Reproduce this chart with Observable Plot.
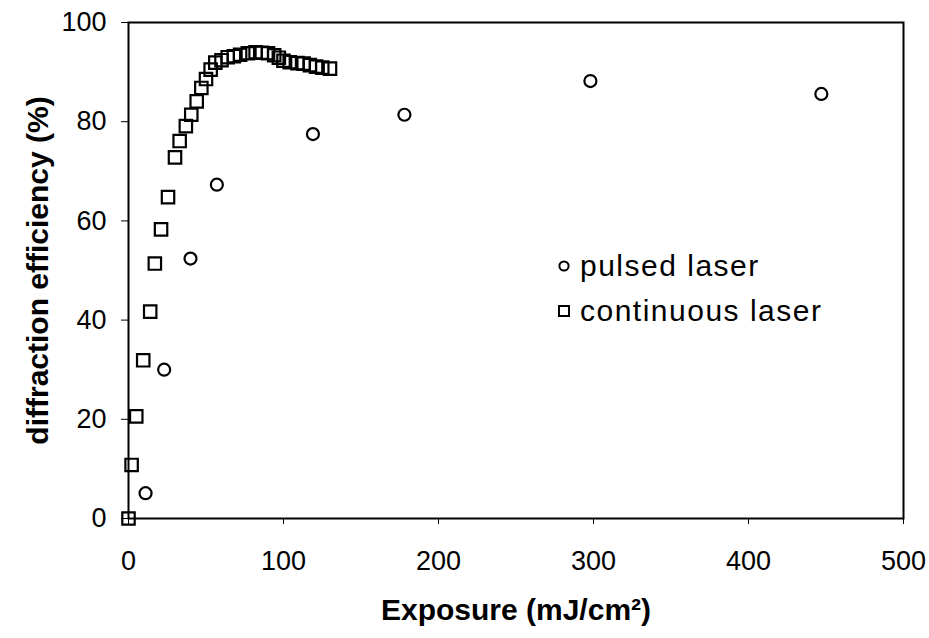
<!DOCTYPE html>
<html>
<head>
<meta charset="utf-8">
<script src="https://cdn.jsdelivr.net/npm/d3@7"></script>
<script src="https://cdn.jsdelivr.net/npm/@observablehq/plot@0.6"></script>
<style>
  html, body { margin: 0; padding: 0; background: #fff; }
  #wrap { position: relative; width: 929px; height: 638px; font-family: "Liberation Sans", Arial, sans-serif; }
  .leg { position: absolute; left: 557px; font-size: 30px; line-height: 30px; color: #000; display: flex; align-items: center; white-space: nowrap; letter-spacing: 1.5px; }
  .leg svg { margin-right: 9px; }
</style>
</head>
<body>
<div id="wrap"></div>
<script>
// pulsed laser (circles)
const pulsedX = [11, 23, 40, 57, 119, 178, 298, 447];
const pulsedY = [5.1, 30.0, 52.4, 67.3, 77.5, 81.4, 88.2, 85.6];
// continuous laser (squares)
const contX = [0, 2, 5, 9.5, 14, 17, 21, 25.5, 30, 33, 37, 40.5, 44, 47, 50, 53, 56, 60, 64, 68, 72, 77, 82, 86, 90, 94, 97, 100, 104, 109, 113, 117, 121, 125, 130];
const contY = [0, 10.8, 20.6, 31.9, 41.7, 51.4, 58.3, 64.8, 72.8, 76.1, 79.1, 81.4, 84.1, 86.8, 88.6, 90.5, 91.9, 92.4, 93.0, 93.2, 93.5, 93.8, 94.0, 93.9, 93.8, 93.4, 92.9, 92.3, 92.0, 91.8, 91.7, 91.4, 91.1, 90.9, 90.7];
const xTicks = [0, 100, 200, 300, 400, 500];
const yTicks = [0, 20, 40, 60, 80, 100];
const xTitle = "Exposure (mJ/cm²)";
const yTitle = "diffraction efficiency (%)";
const legendLabels = ["pulsed laser", "continuous laser"];

const pulsed = pulsedX.map((x, i) => ({x, y: pulsedY[i]}));
const cont = contX.map((x, i) => ({x, y: contY[i]}));

const chart = Plot.plot({
  width: 929,
  height: 638,
  marginLeft: 128,
  marginRight: 26,
  marginTop: 22,
  marginBottom: 120,
  style: { fontFamily: "'Liberation Sans', Arial, sans-serif", fontSize: "27px", color: "#000", background: "#fff" },
  x: { domain: [0, 500] },
  y: { domain: [0, 100] },
  marks: [
    Plot.frame({ stroke: "#000", strokeWidth: 2 }),
    Plot.axisX({ ticks: xTicks, tickSize: 6, tickPadding: 26, fontSize: 27, label: null, tickFormat: d => d }),
    Plot.axisY({ ticks: yTicks, tickSize: 7, tickPadding: 15, fontSize: 27, label: null, tickFormat: d => d }),
    Plot.dot(cont, { x: "x", y: "y", symbol: "square", r: 7, stroke: "#000", strokeWidth: 2.2, fill: "none" }),
    Plot.dot(pulsed, { x: "x", y: "y", symbol: "circle", r: 6, stroke: "#000", strokeWidth: 2.2, fill: "none" }),
    Plot.text([xTitle], { frameAnchor: "bottom", dy: 92, textAnchor: "middle", lineAnchor: "middle", fontWeight: "bold", fontSize: 30, fill: "#000" }),
    Plot.text([yTitle], { frameAnchor: "left", dx: -90, rotate: -90, textAnchor: "middle", lineAnchor: "middle", fontWeight: "bold", fontSize: 30, fill: "#000" })
  ]
});
const wrap = document.getElementById("wrap");
wrap.appendChild(chart);

const sym = [
  '<svg width="14" height="14"><circle cx="7" cy="7" r="4.6" fill="none" stroke="#000" stroke-width="2"/></svg>',
  '<svg width="14" height="14"><rect x="2" y="2" width="10" height="10" fill="none" stroke="#000" stroke-width="2"/></svg>'
];
const tops = [251, 296];
legendLabels.forEach((lab, i) => {
  const d = document.createElement("div");
  d.className = "leg";
  d.style.top = tops[i] + "px";
  d.innerHTML = sym[i] + "<span>" + lab + "</span>";
  wrap.appendChild(d);
});
</script>
</body>
</html>
